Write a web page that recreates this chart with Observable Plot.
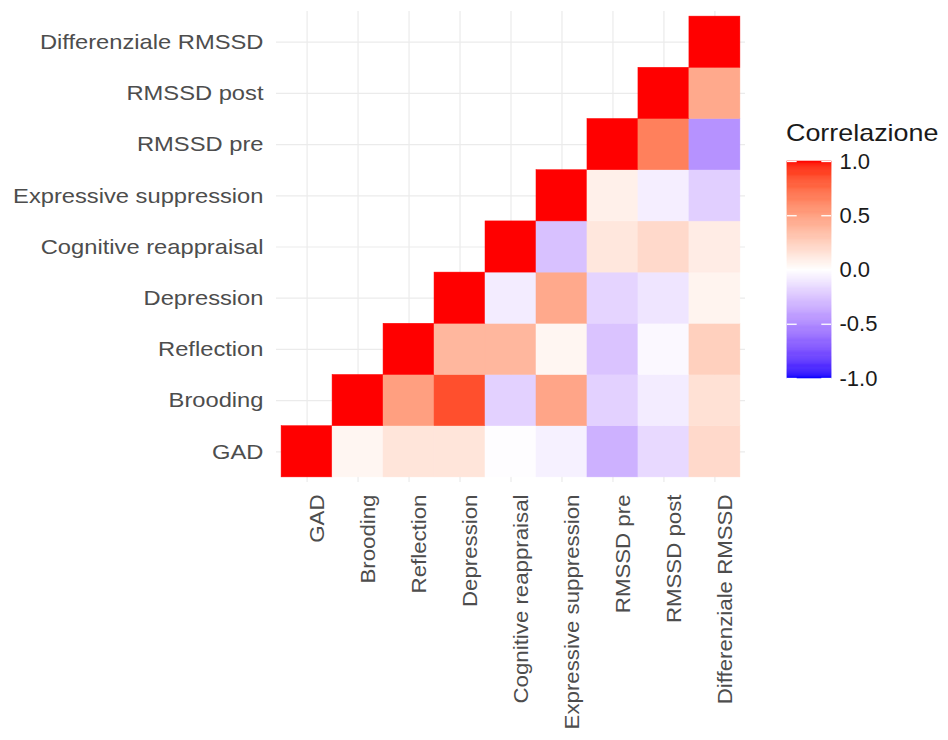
<!DOCTYPE html>
<html><head><meta charset="utf-8">
<script src="https://cdn.jsdelivr.net/npm/d3@7"></script>
<script src="https://cdn.jsdelivr.net/npm/@observablehq/plot@0.6"></script>
<style>
body{margin:0;background:#fff;}
#wrap{position:relative;width:948px;height:740px;overflow:hidden;font-family:"Liberation Sans",Arial,sans-serif;background:#fff;}
#main{position:absolute;left:0;top:0;}
#legend{position:absolute;left:770px;top:100px;}
#ltitle{position:absolute;left:786px;top:119px;font-size:24px;line-height:28px;color:#1a1a1a;white-space:nowrap;transform-origin:0 0;transform:scaleX(1.12);}
</style></head><body>
<div id="wrap"><div id="main"></div><div id="ltitle">Correlazione</div><div id="legend"></div></div>
<script>
const vars = ["GAD","Brooding","Reflection","Depression","Cognitive reappraisal","Expressive suppression","RMSSD pre","RMSSD post","Differenziale RMSSD"];
// correlations of each row variable with itself and the variables after it
const corGAD        = [1.00, 0.05, 0.14, 0.14, -0.01, -0.06, -0.33, -0.16, 0.20];
const corBrooding   = [1.00, 0.50, 0.85, -0.19, 0.47, -0.19, -0.08, 0.16];
const corReflection = [1.00, 0.38, 0.38, 0.05, -0.25, -0.03, 0.25];
const corDepression = [1.00, -0.08, 0.45, -0.18, -0.11, 0.06];
const corCognitive  = [1.00, -0.26, 0.13, 0.20, 0.10];
const corExpressive = [1.00, 0.08, -0.07, -0.20];
const corRmssdPre   = [1.00, 0.65, -0.46];
const corRmssdPost  = [1.00, 0.45];
const corDiff       = [1.00];
const legendBreaks  = [-1, -0.5, 0, 0.5, 1];
const legendTitle   = "Correlazione";

const rows = [corGAD, corBrooding, corReflection, corDepression, corCognitive, corExpressive, corRmssdPre, corRmssdPost, corDiff];
const cells = rows.flatMap((vals, i) => vals.map((v, k) => ({y: vars[i], x: vars[i + k], r: v})));

const colorScale = {type: "linear", domain: [-1, 0, 1], range: ["blue", "white", "red"], interpolate: "lab"};

const main = Plot.plot({
  width: 760, height: 740,
  marginLeft: 276, marginRight: 15, marginTop: 11, marginBottom: 258,
  style: {fontFamily: "'Liberation Sans', Arial, sans-serif", fontSize: "21px", color: "#4d4d4d", background: "white"},
  x: {domain: vars, paddingInner: 0, paddingOuter: 0.1, round: false, label: null},
  y: {domain: vars.slice().reverse(), paddingInner: 0, paddingOuter: 0.1, round: false, label: null},
  color: colorScale,
  marks: [
    Plot.gridX({stroke: "#ebebeb", strokeOpacity: 1, strokeWidth: 1.2}),
    Plot.gridY({stroke: "#ebebeb", strokeOpacity: 1, strokeWidth: 1.2}),
    Plot.cell(cells, {x: "x", y: "y", fill: "r", stroke: "r", strokeWidth: 0.5, inset: 0}),
    Plot.axisY({tickSize: 0, tickPadding: 13, fontSize: 21, fill: "#4d4d4d", label: null}),
    Plot.axisX({tickSize: 0, tickPadding: 12, tickRotate: -90, fontSize: 21, fill: "#4d4d4d", label: null, dx: 10})
  ]
});
main.querySelectorAll('g[aria-label="y-axis tick label"] text').forEach(t => {
  t.setAttribute("transform", (t.getAttribute("transform") || "") + " scale(1.13,1)");
});
main.querySelectorAll('g[aria-label="x-axis tick label"] text').forEach(t => {
  t.setAttribute("transform", (t.getAttribute("transform") || "") + " scale(1.06,1)");
});
document.getElementById("main").appendChild(main);

const ramp = d3.range(0, 200).map(i => -1 + i * 0.01);
const legend = Plot.plot({
  width: 178, height: 300,
  marginLeft: 17, marginRight: 117, marginTop: 61, marginBottom: 22,
  style: {fontFamily: "'Liberation Sans', Arial, sans-serif", fontSize: "22px", color: "#1a1a1a", background: "transparent"},
  x: {domain: [0, 1], axis: null},
  y: {domain: [-1, 1]},
  color: colorScale,
  marks: [
    Plot.rect(ramp, {x1: 0, x2: 1, y1: d => d, y2: d => d + 0.01, fill: d => d + 0.005, stroke: d => d + 0.005, strokeWidth: 0.6}),
    Plot.ruleY(legendBreaks, {x1: 0, x2: 0.22, stroke: "white", strokeWidth: 1.3}),
    Plot.ruleY(legendBreaks, {x1: 0.78, x2: 1, stroke: "white", strokeWidth: 1.3}),
    Plot.axisY({anchor: "right", ticks: legendBreaks, tickFormat: d => d.toFixed(1), tickSize: 0, tickPadding: 8, fontSize: 22, fill: "#1a1a1a", label: null})
  ]
});
document.getElementById("legend").appendChild(legend);
</script>
</body></html>
